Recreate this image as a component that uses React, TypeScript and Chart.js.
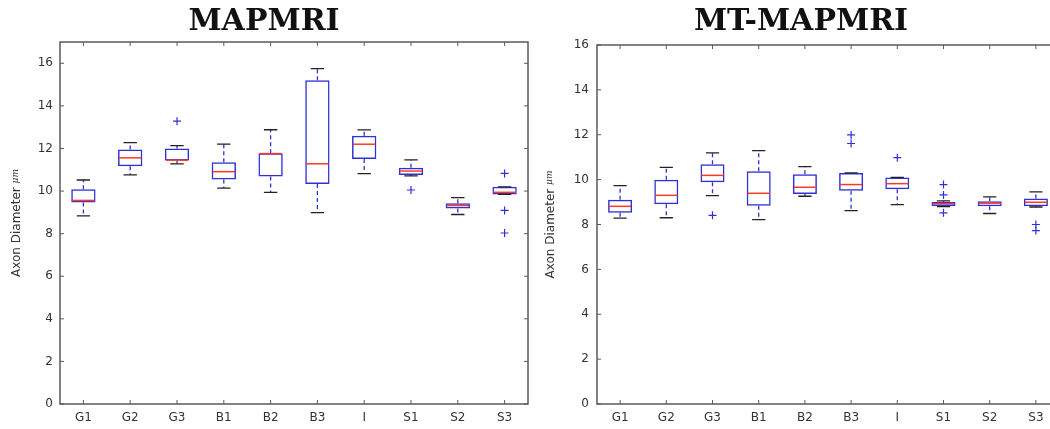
import React, { useEffect, useRef } from "react";
import { Chart, registerables } from "chart.js";

Chart.register(...registerables);

const categories = ["G1", "G2", "G3", "B1", "B2", "B3", "I", "S1", "S2", "S3"];
const yTickStep = 2;

// MAPMRI
const mapQ1 = [9.46, 11.17, 11.43, 10.54, 10.68, 10.33, 11.51, 10.76, 9.18, 9.84];
const mapQ3 = [10.09, 11.95, 12.0, 11.35, 11.78, 15.2, 12.6, 11.1, 9.43, 10.2];
const mapMed = [9.56, 11.56, 11.45, 10.91, 11.76, 11.28, 12.2, 10.94, 9.32, 9.94];
const mapLo = [8.83, 10.76, 11.28, 10.14, 9.94, 8.99, 10.82, 10.71, 8.9, 9.84];
const mapHi = [10.52, 12.27, 12.13, 12.2, 12.88, 15.75, 12.87, 11.46, 9.69, 10.2];
const mapOutliers = [[], [], [13.28], [], [], [], [], [10.05], [], [10.83, 9.09, 8.03]];

// MT-MAPMRI
const mtQ1 = [8.52, 8.9, 9.88, 8.84, 9.36, 9.5, 9.57, 8.83, 8.81, 8.81];
const mtQ3 = [9.1, 9.99, 10.68, 10.37, 10.24, 10.3, 10.1, 9.0, 9.04, 9.16];
const mtMed = [8.81, 9.3, 10.19, 9.39, 9.66, 9.78, 9.82, 8.93, 8.95, 8.99];
const mtLo = [8.28, 8.3, 9.29, 8.22, 9.26, 8.62, 8.89, 8.8, 8.49, 8.78];
const mtHi = [9.73, 10.55, 11.19, 11.29, 10.58, 10.3, 10.1, 9.05, 9.23, 9.45];
const mtOutliers = [[], [], [8.41], [], [], [11.99, 11.61], [10.98], [9.78, 9.32, 8.52], [], [8.0, 7.73]];

const BLUE = "#3030d8";
const RED = "#ff3a22";
const AXIS = "#5a5a5a";

const boxExtras = {
  id: "boxExtras",
  afterDatasetsDraw(chart: any, _args: any, opts: any) {
    const { ctx, scales } = chart;
    const x = scales.x;
    const y = scales.y;
    const meta = chart.getDatasetMeta(0);
    ctx.save();
    opts.med.forEach((m: number, i: number) => {
      const bar = meta.data[i];
      const cx = x.getPixelForValue(i);
      const half = bar.width / 2;
      const capHalf = half * 0.55;
      ctx.strokeStyle = BLUE;
      ctx.lineWidth = 1.3;
      ctx.setLineDash([4, 3]);
      ctx.beginPath();
      ctx.moveTo(cx, y.getPixelForValue(opts.q3[i]));
      ctx.lineTo(cx, y.getPixelForValue(opts.hi[i]));
      ctx.moveTo(cx, y.getPixelForValue(opts.q1[i]));
      ctx.lineTo(cx, y.getPixelForValue(opts.lo[i]));
      ctx.stroke();
      ctx.setLineDash([]);
      ctx.strokeStyle = "#222";
      ctx.lineWidth = 1.3;
      ctx.beginPath();
      ctx.moveTo(cx - capHalf, y.getPixelForValue(opts.hi[i]));
      ctx.lineTo(cx + capHalf, y.getPixelForValue(opts.hi[i]));
      ctx.moveTo(cx - capHalf, y.getPixelForValue(opts.lo[i]));
      ctx.lineTo(cx + capHalf, y.getPixelForValue(opts.lo[i]));
      ctx.stroke();
      ctx.strokeStyle = RED;
      ctx.lineWidth = 1.5;
      ctx.beginPath();
      ctx.moveTo(cx - half + 1, y.getPixelForValue(m));
      ctx.lineTo(cx + half - 1, y.getPixelForValue(m));
      ctx.stroke();
    });
    ctx.restore();
  },
  afterDraw(chart: any, _args: any, opts: any) {
    const { ctx, chartArea, scales } = chart;
    const { left, right, top, bottom } = chartArea;
    const x = scales.x;
    const y = scales.y;
    ctx.save();
    ctx.strokeStyle = AXIS;
    ctx.lineWidth = 1.5;
    ctx.strokeRect(left, top, right - left, bottom - top);
    ctx.lineWidth = 1;
    ctx.beginPath();
    const tl = 4;
    y.ticks.forEach((t: any) => {
      const py = y.getPixelForValue(t.value);
      ctx.moveTo(left, py);
      ctx.lineTo(left + tl, py);
      ctx.moveTo(right, py);
      ctx.lineTo(right - tl, py);
    });
    x.ticks.forEach((_t: any, i: number) => {
      const px = x.getPixelForTick(i);
      ctx.moveTo(px, bottom);
      ctx.lineTo(px, bottom - tl);
      ctx.moveTo(px, top);
      ctx.lineTo(px, top + tl);
    });
    ctx.stroke();
    // y-axis title
    const cy = (top + bottom) / 2;
    ctx.translate(opts.titleX, cy);
    ctx.rotate(-Math.PI / 2);
    ctx.fillStyle = "#333";
    ctx.textBaseline = "middle";
    ctx.textAlign = "left";
    const main = "Axon Diameter ";
    const unit = "μm";
    ctx.font = "12px 'DejaVu Sans'";
    const w1 = ctx.measureText(main).width;
    ctx.font = "italic 9px 'DejaVu Serif'";
    const w2 = ctx.measureText(unit).width;
    const start = -(w1 + w2) / 2;
    ctx.font = "12px 'DejaVu Sans'";
    ctx.fillText(main, start, 0);
    ctx.font = "italic 9px 'DejaVu Serif'";
    ctx.fillText(unit, start + w1, -1);
    ctx.restore();
  },
};

type Panel = {
  title: string;
  q1: number[];
  q3: number[];
  med: number[];
  lo: number[];
  hi: number[];
  outliers: number[][];
  yMax: number;
  yWidth: number;
  rightPad: number;
  titleBottom: number;
  titleX: number;
  tickPad: number;
};

function makeConfig(p: Panel): any {
  const outlierPts = p.outliers.flatMap((arr, i) => arr.map((v) => ({ x: categories[i], y: v })));
  const tickFont = { family: "'DejaVu Sans'", size: 12 };
  return {
    type: "bar",
    data: {
      labels: categories,
      datasets: [
        {
          type: "bar",
          data: p.q1.map((v, i) => [v, p.q3[i]]),
          backgroundColor: "rgba(255,255,255,0)",
          borderColor: BLUE,
          borderWidth: 1.5,
          borderSkipped: false,
          barPercentage: 0.52,
          categoryPercentage: 1,
        },
        {
          type: "line",
          data: outlierPts,
          showLine: false,
          pointStyle: "cross",
          pointRadius: 4,
          pointBorderWidth: 1.2,
          borderColor: BLUE,
          backgroundColor: BLUE,
        },
      ],
    },
    options: {
      animation: false,
      responsive: false,
      events: [],
      layout: { padding: { left: 0, right: p.rightPad, top: 0, bottom: 0 } },
      plugins: {
        legend: { display: false },
        tooltip: { enabled: false },
        title: {
          display: true,
          text: p.title,
          color: "#111",
          font: { family: "'DejaVu Serif'", size: 30, weight: "bold", lineHeight: 1.2 },
          padding: { top: 4, bottom: p.titleBottom },
        },
        boxExtras: {
          q1: p.q1,
          q3: p.q3,
          med: p.med,
          lo: p.lo,
          hi: p.hi,
          titleX: p.titleX,
        },
      },
      scales: {
        x: {
          offset: true,
          grid: { display: false, drawTicks: false, tickLength: 0 },
          border: { display: false },
          ticks: { font: tickFont, color: "#333", padding: 7, maxRotation: 0, autoSkip: false },
          afterFit: (s: any) => {
            s.height = 25;
          },
        },
        y: {
          min: 0,
          max: p.yMax,
          grid: { display: false, drawTicks: false, tickLength: 0 },
          border: { display: false },
          ticks: { stepSize: yTickStep, includeBounds: false, font: tickFont, color: "#333", padding: p.tickPad },
          afterFit: (s: any) => {
            s.width = p.yWidth;
          },
        },
      },
    },
    plugins: [boxExtras],
  };
}

const leftPanel: Panel = {
  title: "MAPMRI",
  q1: mapQ1,
  q3: mapQ3,
  med: mapMed,
  lo: mapLo,
  hi: mapHi,
  outliers: mapOutliers,
  yMax: 17,
  yWidth: 60,
  rightPad: 15,
  titleBottom: 2,
  titleX: 17,
  tickPad: 7,
};

const rightPanel: Panel = {
  title: "MT-MAPMRI",
  q1: mtQ1,
  q3: mtQ3,
  med: mtMed,
  lo: mtLo,
  hi: mtHi,
  outliers: mtOutliers,
  yMax: 16,
  yWidth: 54,
  rightPad: 19,
  titleBottom: 5,
  titleX: 8,
  tickPad: 8,
};

export default function App() {
  const leftRef = useRef<HTMLCanvasElement>(null);
  const rightRef = useRef<HTMLCanvasElement>(null);

  useEffect(() => {
    const c1 = new Chart(leftRef.current as HTMLCanvasElement, makeConfig(leftPanel));
    const c2 = new Chart(rightRef.current as HTMLCanvasElement, makeConfig(rightPanel));
    return () => {
      c1.destroy();
      c2.destroy();
    };
  }, []);

  return (
    <div
      style={{
        position: "fixed",
        left: 0,
        top: 0,
        width: 1050,
        height: 429,
        overflow: "hidden",
        background: "#fff",
      }}
    >
      <canvas ref={leftRef} width={543} height={429} style={{ position: "absolute", left: 0, top: 0 }} />
      <canvas ref={rightRef} width={535} height={429} style={{ position: "absolute", left: 543, top: 0 }} />
    </div>
  );
}
